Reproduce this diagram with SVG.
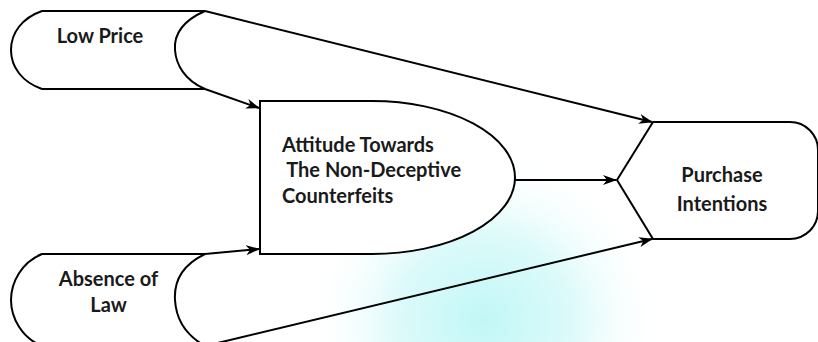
<svg xmlns="http://www.w3.org/2000/svg" width="818" height="342" viewBox="0 0 818 342">
<defs>
<radialGradient id="wm" cx="485" cy="320" r="170" gradientUnits="userSpaceOnUse" gradientTransform="translate(485 320) scale(1.05 1) translate(-485 -320)">
<stop offset="0" stop-color="#c2f7f7"/>
<stop offset="0.5" stop-color="#ddfafa"/>
<stop offset="1" stop-color="#ffffff" stop-opacity="0"/>
</radialGradient>
<marker id="arr" viewBox="0 0 14 10" refX="13" refY="5" markerWidth="14" markerHeight="10" markerUnits="userSpaceOnUse" orient="auto">
<path d="M0,0 L14,5 L0,10 L4,5 Z" fill="#000"/>
</marker>
</defs>
<style>
.shape{fill:#fff;stroke:#000;stroke-width:2}
.lbl{font-family:Lato,"Open Sans","Liberation Sans",sans-serif;font-weight:bold;font-size:20px;fill:#1a1a1a}
.con{fill:none;stroke:#000;stroke-width:2;marker-end:url(#arr)}
</style>
<rect width="818" height="342" fill="#fff"/>
<rect x="300" y="130" width="380" height="212" fill="url(#wm)"/>
<g id="connectors">
<path class="con" d="M205,11 L652,122"/>
<path class="con" d="M205,89 L259,108"/>
<path class="con" d="M205,254 L259,249"/>
<path class="con" d="M205,346 L652,239"/>
<path class="con" d="M515,180 L616,180"/>
</g>
<g id="low-price">
<path class="shape" d="M42,11 H205 C180,22 174,37 175,50 C176,64 184,80 205,89 H42 C22,82 11,67 11,50 C11,33 22,18 42,11 Z"/>
<text class="lbl" x="100" y="43" text-anchor="middle">Low Price</text>
</g>
<g id="absence-of-law">
<path class="shape" d="M42,254 H205 C180,266 174,284 175,300 C176,318 184,334 205,346 H42 C22,338 11,318 11,300 C11,282 22,262 42,254 Z"/>
<text class="lbl" x="108.5" y="286" text-anchor="middle">Absence of</text>
<text class="lbl" x="108.5" y="312" text-anchor="middle">Law</text>
</g>
<g id="attitude">
<path class="shape" d="M260,101 H372 A143,76.5 0 0 1 372,254 H260 Z"/>
<text class="lbl" x="282" y="152">Attitude Towards</text>
<text class="lbl" x="282" y="177" xml:space="preserve"> The Non-Deceptive</text>
<text class="lbl" x="282" y="203">Counterfeits</text>
</g>
<g id="purchase-intentions">
<path class="shape" d="M653,122 H790 A28,28 0 0 1 818,150 V211 A28,28 0 0 1 790,239 H653 L617,180 Z"/>
<text class="lbl" x="722" y="182" text-anchor="middle">Purchase</text>
<text class="lbl" x="722" y="211" text-anchor="middle">Intentions</text>
</g>
</svg>
